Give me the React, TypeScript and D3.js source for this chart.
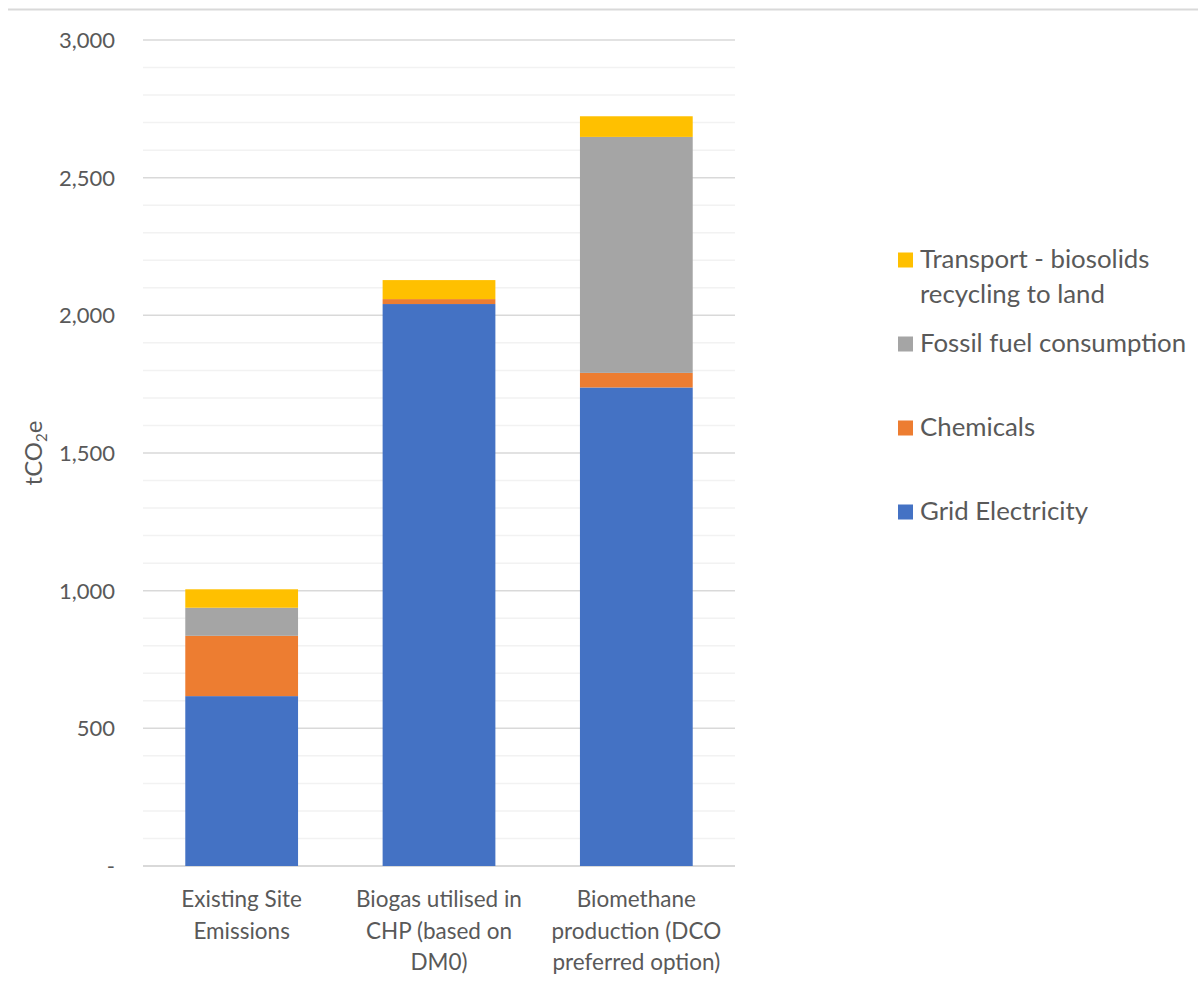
import React from "react";
import * as d3 from "d3";

const categories = ["Existing Site Emissions", "Biogas utilised in CHP (based on DM0)", "Biomethane production (DCO preferred option)"];
const categoryLines = [
  ["Existing Site", "Emissions"],
  ["Biogas utilised in", "CHP (based on", "DM0)"],
  ["Biomethane", "production (DCO", "preferred option)"],
];
const gridElectricity = [617, 2041, 1738];
const chemicals = [219, 18, 53];
const fossilFuel = [102, 0, 857];
const transport = [67, 69, 75];

const seriesNames = ["Grid Electricity", "Chemicals", "Fossil fuel consumption", "Transport - biosolids recycling to land"];
const seriesColors = ["#4472C4", "#ED7D31", "#A5A5A5", "#FFC000"];
const majorTicks = [0, 500, 1000, 1500, 2000, 2500, 3000];

const FONT = "Lato, 'Open Sans', sans-serif";
const TXT = "#595959";

export default function App() {
  const left = 144, right = 736, top = 40, bottom = 866;
  const y = d3.scaleLinear().domain([0, 3000]).range([bottom, top]);
  const x = d3.scaleBand().domain(categories).range([left, right]).paddingInner(0).paddingOuter(0);
  const barW = x.step() / 1.75;

  const rows = categories.map((c, i) => ({
    cat: c,
    s0: gridElectricity[i],
    s1: chemicals[i],
    s2: fossilFuel[i],
    s3: transport[i],
  }));
  const stack = d3.stack<any>().keys(["s0", "s1", "s2", "s3"])(rows);
  const minor = d3.range(0, 3001, 100).filter((v) => v % 500 !== 0);
  const fmt = (v: number) => (v === 0 ? "-" : d3.format(",")(v));

  const legendItems = [
    { idx: 3, lines: ["Transport - biosolids", "recycling to land"], markY: 260, base: 268 },
    { idx: 2, lines: ["Fossil fuel consumption"], markY: 344, base: 352 },
    { idx: 1, lines: ["Chemicals"], markY: 428, base: 436 },
    { idx: 0, lines: ["Grid Electricity"], markY: 512, base: 520 },
  ];

  return (
    <svg width={1198} height={990} style={{ position: "absolute", left: 0, top: 0, background: "#fff" }} fontFamily={FONT}>
      <line x1={8} x2={1198} y1={9.5} y2={9.5} stroke="#d9d9d9" strokeWidth={2} />
      {minor.map((v) => (
        <line key={"m" + v} x1={left - 1} x2={right - 1} y1={y(v)} y2={y(v)} stroke="#f2f2f2" strokeWidth={1.5} />
      ))}
      {majorTicks.map((v) => (
        <line key={"M" + v} x1={left - 1} x2={right - 1} y1={y(v)} y2={y(v)} stroke="#d9d9d9" strokeWidth={v === 0 ? 2 : 1.5} />
      ))}
      {majorTicks.map((v) => (
        <text key={"t" + v} x={115} y={y(v)} dy="0.36em" textAnchor="end" fontSize={22} fill={TXT}>
          {fmt(v)}
        </text>
      ))}
      {stack.map((layer, li) =>
        layer.map((d, i) => (
          <rect
            key={li + "-" + i}
            x={(x(categories[i]) as number) + x.step() / 2 - barW / 2 - 1}
            width={barW}
            y={y(d[1])}
            height={Math.max(0, y(d[0]) - y(d[1]))}
            fill={seriesColors[li]}
          />
        ))
      )}
      {categoryLines.map((lines, i) => (
        <text key={"c" + i} textAnchor="middle" fontSize={22.5} fill={TXT}>
          {lines.map((ln, j) => (
            <tspan key={j} x={(x(categories[i]) as number) + x.step() / 2 - 1} y={907 + j * 31.5}>
              {ln}
            </tspan>
          ))}
        </text>
      ))}
      <text transform="translate(42,453) rotate(-90)" textAnchor="middle" fontSize={24} fill={TXT}>
        tCO<tspan fontSize={15} dy={5}>2</tspan>
        <tspan dy={-5}>e</tspan>
      </text>
      {legendItems.map((it) => (
        <g key={"l" + it.idx}>
          <rect x={898} y={it.markY - 7.5} width={15} height={15} fill={seriesColors[it.idx]} />
          <text fontSize={25.8} fill={TXT}>
            {it.lines.map((ln, j) => (
              <tspan key={j} x={920} y={it.base + j * 35}>
                {ln}
              </tspan>
            ))}
          </text>
        </g>
      ))}
    </svg>
  );
}
